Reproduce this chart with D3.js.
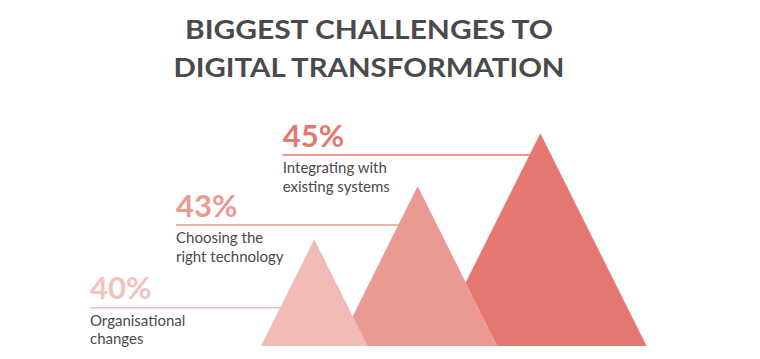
<!DOCTYPE html>
<html>
<head>
<meta charset="utf-8">
<script src="https://cdn.jsdelivr.net/npm/d3@7"></script>
<style>
  html, body { margin: 0; padding: 0; background: #ffffff; }
  svg { display: block; }
</style>
</head>
<body>
<svg id="chart" width="760" height="359"></svg>
<script>
// ---- Data ----
const titleLines = ["BIGGEST CHALLENGES TO", "DIGITAL TRANSFORMATION"];
const categories = ["Organisational changes", "Choosing the right technology", "Integrating with existing systems"];
const labelLines = [["Organisational", "changes"], ["Choosing the", "right technology"], ["Integrating with", "existing systems"]];
const values = [40, 43, 45];
const colors = ["#f2bcb6", "#eb9a93", "#e47870"];
const textColors = ["#f3c3bd", "#eb9a93", "#e47870"];

// ---- Layout ----
const W = 760, H = 359;
const baseY = 346;
const svg = d3.select("#chart");

const data = categories.map((c, i) => ({ cat: c, lines: labelLines[i], value: values[i], color: colors[i], tcolor: textColors[i] }));

// heights by rank (point scale over categories)
const heightScale = d3.scalePoint().domain(categories).range([106.7, 212.7]);
const apexX = d3.scaleOrdinal().domain(categories).range([314.3, 417.7, 540.3]);
const lineY = d3.scaleOrdinal().domain(categories).range([307.7, 225, 155]);
const labelX = d3.scaleOrdinal().domain(categories).range([90, 176, 282.7]);

// Title
svg.append("g").selectAll("text").data(titleLines).join("text")
  .attr("x", 369)
  .attr("y", (d, i) => 39 + i * 38)
  .attr("text-anchor", "middle")
  .attr("font-family", "Lato, 'Open Sans', sans-serif")
  .attr("font-weight", 700)
  .attr("font-size", 27)
  .attr("fill", "#4a4a4c")
  .attr("textLength", (d, i) => i === 0 ? 368 : 391)
  .attr("lengthAdjust", "spacingAndGlyphs")
  .text(d => d);

// Leader lines (behind triangles)
svg.append("g").selectAll("line").data(data).join("line")
  .attr("x1", d => labelX(d.cat))
  .attr("x2", d => apexX(d.cat))
  .attr("y1", d => lineY(d.cat))
  .attr("y2", d => lineY(d.cat))
  .attr("stroke", d => d.color)
  .attr("stroke-width", 1.5);

// Triangles: draw largest first so smaller ones sit in front
const tri = d => {
  const h = heightScale(d.cat), x = apexX(d.cat);
  const p = d3.path();
  p.moveTo(x - h / 2, baseY);
  p.lineTo(x, baseY - h);
  p.lineTo(x + h / 2, baseY);
  p.closePath();
  return p.toString();
};
svg.append("g").selectAll("path").data(data.slice().reverse()).join("path")
  .attr("d", tri)
  .attr("fill", d => d.color);

// Percent labels
const labels = svg.append("g").selectAll("g").data(data).join("g");
labels.append("text")
  .attr("x", d => labelX(d.cat))
  .attr("y", d => lineY(d.cat) - 8.4)
  .attr("font-family", "Lato, 'Open Sans', sans-serif")
  .attr("font-weight", 700)
  .attr("font-size", 31)
  .attr("fill", d => d.tcolor)
  .text(d => d.value + "%");

labels.each(function(d) {
  d3.select(this).selectAll("text.lbl").data(d.lines).join("text")
    .attr("class", "lbl")
    .attr("x", labelX(d.cat))
    .attr("y", (t, i) => lineY(d.cat) + 18.1 + i * 18.6)
    .attr("font-family", "Lato, 'Open Sans', sans-serif")
    .attr("font-size", 15)
    .attr("fill", "#4a4a4c")
    .text(t => t);
});
</script>
</body>
</html>
